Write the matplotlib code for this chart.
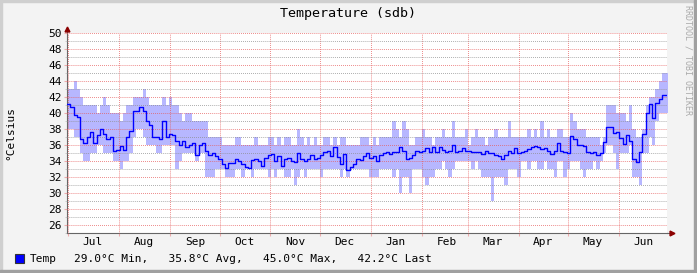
import matplotlib
matplotlib.use("Agg")
import matplotlib.pyplot as plt
import matplotlib.dates as mdates
from matplotlib.ticker import MultipleLocator, NullFormatter
from matplotlib.patches import Rectangle
import pandas as pd
from datetime import datetime

plt.rcParams['font.family'] = ['DejaVu Sans Mono']

# one value per 2 days, starting 30 Jun 2012
start = datetime(2012, 6, 30, 5)
end = datetime(2013, 6, 30, 5)

avg = [41.1, 40.8, 39.8, 39.5, 36.8, 36.3, 37.0, 37.6, 36.2, 37.2, 38.0, 37.4, 36.8, 37.0, 35.3, 35.4, 35.9, 35.4, 37.0, 37.8, 40.3, 40.2, 40.7,
       40.2, 39.0, 38.5, 37.0, 37.0, 36.7, 39.0, 37.0, 37.4, 37.3, 36.5, 36.0, 36.5, 35.8, 36.0, 36.2, 34.8, 36.0, 36.2, 35.2, 34.8, 35.0, 34.6,
       34.2, 33.6, 33.1, 33.7, 33.8, 34.3, 34.0, 33.6, 33.3, 33.1, 34.1, 34.2, 34.0, 33.4, 34.4, 34.7, 34.9, 34.0, 34.6, 33.4, 34.2, 34.4, 34.0,
       33.9, 35.0, 34.2, 34.0, 34.3, 34.7, 34.3, 34.4, 34.7, 35.1, 35.2, 34.6, 35.7, 34.5, 33.6, 34.9, 32.9, 33.2, 33.6, 34.2, 34.1, 34.6,
       35.0, 34.4, 34.6, 34.0, 34.8, 35.0, 35.1, 34.9, 35.1, 35.1, 35.7, 35.2, 34.3, 34.4, 34.8, 35.3, 35.1, 35.2, 35.6, 35.1, 35.7, 35.1, 35.7,
       35.4, 35.1, 35.2, 36.0, 35.1, 35.2, 35.6, 35.3, 35.2, 35.1, 35.1, 35.1, 34.9, 35.2, 35.0, 35.0, 34.8, 34.6, 34.3, 34.7, 35.3, 35.0, 35.6,
       35.0, 35.1, 35.2, 35.5, 35.8, 35.9, 35.8, 35.5, 35.6, 35.2, 34.9, 35.3, 36.2, 35.3, 35.1, 35.0, 37.1, 36.7, 36.0, 36.0, 35.9, 35.1, 35.0,
       35.1, 34.7, 35.0, 36.4, 38.2, 38.2, 37.5, 37.6, 36.9, 36.1, 37.3, 36.5, 34.2, 33.9, 35.1, 37.4, 40.0, 41.1, 39.4, 41.2, 41.7, 42.3, 42.2]

tmax = [43, 43, 44, 43, 42, 41, 41, 41, 41, 40, 41, 42, 41, 40, 40, 40, 39, 40, 41, 41, 42, 42, 42,
        43, 42, 41, 41, 41, 41, 42, 41, 42, 41, 41, 40, 39, 40, 40, 39, 39, 39, 39, 39, 37, 37, 37,
        37, 36, 36, 36, 36, 37, 37, 36, 36, 36, 36, 37, 36, 36, 36, 37, 37, 36, 37, 36, 37, 37, 36,
        36, 38, 37, 36, 37, 36, 37, 36, 36, 37, 37, 36, 37, 36, 37, 37, 36, 36, 36, 36, 37, 37,
        37, 36, 37, 36, 37, 37, 37, 37, 39, 38, 37, 39, 38, 36, 36, 37, 37, 38, 37, 37, 36, 37, 37,
        38, 37, 37, 39, 37, 37, 37, 38, 36, 37, 38, 37, 37, 36, 37, 37, 38, 37, 37, 37, 39, 37, 37,
        37, 37, 37, 38, 37, 38, 37, 39, 37, 38, 37, 37, 38, 38, 37, 37, 40, 39, 38, 38, 38, 37, 37,
        37, 37, 36, 37, 41, 41, 41, 40, 40, 40, 39, 41, 38, 37, 37, 38, 41, 42, 42, 43, 44, 45, 45]

tmin = [38, 38, 37, 37, 35, 34, 34, 35, 35, 36, 36, 35, 35, 35, 34, 34, 33, 34, 34, 35, 37, 38, 38,
        37, 36, 36, 36, 35, 35, 36, 36, 36, 36, 33, 34, 35, 35, 35, 35, 34, 35, 35, 32, 32, 32, 33,
        33, 33, 32, 32, 32, 33, 33, 32, 33, 33, 32, 33, 33, 33, 33, 32, 33, 32, 33, 33, 32, 32, 33,
        31, 32, 33, 32, 33, 33, 33, 33, 32, 33, 33, 33, 33, 33, 32, 33, 32, 33, 33, 33, 33, 33,
        33, 32, 32, 32, 33, 33, 33, 33, 32, 33, 30, 32, 32, 30, 33, 33, 33, 32, 31, 32, 32, 33, 33,
        34, 33, 32, 33, 34, 34, 34, 34, 34, 33, 34, 33, 32, 32, 32, 29, 32, 32, 32, 31, 33, 33, 33,
        32, 34, 34, 33, 34, 34, 33, 33, 34, 33, 33, 32, 34, 34, 32, 33, 34, 34, 34, 33, 32, 33, 33,
        34, 33, 34, 35, 36, 36, 35, 33, 35, 35, 35, 36, 32, 32, 31, 35, 35, 37, 36, 39, 40, 40, 40]

legend_text = "29.0°C Min,   35.8°C Avg,   45.0°C Max,   42.2°C Last"

W, H = 697, 273
edges = pd.date_range(start, periods=len(avg) + 1, freq="2D")

fig = plt.figure(figsize=(W / 100, H / 100), dpi=100, facecolor="#F3F3F3")

# 3d-ish frame round the image
fig.patches.append(Rectangle((0, 1 - 2 / H), 1, 2 / H, transform=fig.transFigure, color="#CFCFCF"))
fig.patches.append(Rectangle((0, 0), 2 / W, 1, transform=fig.transFigure, color="#CFCFCF"))
fig.patches.append(Rectangle((0, 0), 1, 3 / H, transform=fig.transFigure, color="#A0A0A0"))
fig.patches.append(Rectangle((1 - 3 / W, 0), 3 / W, 1, transform=fig.transFigure, color="#A0A0A0"))

ax = fig.add_axes([67 / W, 40 / H, 600 / W, 200 / H])
ax.set_facecolor("white")

ax.fill_between(edges, tmin + [tmin[-1]], tmax + [tmax[-1]], step="post",
                color="#B7B7FF", lw=0, zorder=1)
ax.step(edges, avg + [avg[-1]], where="post", color="#0000FF", lw=1.0, zorder=3)

ax.set_xlim(start, end)
ax.set_ylim(25, 50)

ax.yaxis.set_major_locator(MultipleLocator(2))
ax.yaxis.set_minor_locator(MultipleLocator(1))
ax.xaxis.set_major_locator(mdates.MonthLocator())
ax.xaxis.set_major_formatter(NullFormatter())
ax.xaxis.set_minor_locator(mdates.MonthLocator(bymonthday=16))
ax.xaxis.set_minor_formatter(mdates.DateFormatter("%b"))

red = (0.9, 0.35, 0.35, 0.45)
gray = (0.55, 0.55, 0.55, 0.45)
ax.set_axisbelow(False)
ax.grid(which="major", color=red, ls=(0, (0.7, 1.4)), lw=0.7)
ax.grid(which="minor", axis="y", color=gray, ls=(0, (0.7, 1.4)), lw=0.7)

ax.tick_params(axis="x", which="minor", length=0, pad=3, labelsize=8)
ax.tick_params(axis="x", which="major", length=2.5, color=red)
ax.tick_params(axis="y", which="major", length=2.5, color=red, pad=1.5, labelsize=8)
ax.tick_params(axis="y", which="minor", length=1.5, color=gray)

for s in ["top", "right"]:
    ax.spines[s].set_visible(False)
for s in ["left", "bottom"]:
    ax.spines[s].set_color("#666666")
    ax.spines[s].set_linewidth(0.8)

# axis arrows
ax.plot([0, 0], [1, 1.02], transform=ax.transAxes, clip_on=False, color="#666666", lw=0.8)
ax.plot([1, 1.007], [0, 0], transform=ax.transAxes, clip_on=False, color="#666666", lw=0.8)
ax.plot([0], [1.022], marker="^", ms=3.5, color="#8B0000", transform=ax.transAxes, clip_on=False)
ax.plot([1.008], [0], marker=">", ms=3.5, color="#8B0000", transform=ax.transAxes, clip_on=False)

fig.text(0.5, 1 - 13 / H, "Temperature (sdb)", ha="center", va="center", fontsize=9.6)
fig.text(10 / W, 1 - 133 / H, "°Celsius", rotation=90, ha="center", va="center", fontsize=8)
fig.text(688 / W, 1 - 60 / H, "RRDTOOL / TOBI OETIKER", rotation=270, ha="center", va="center",
         fontsize=6, color="#AAAAAA")

# legend
fig.patches.append(Rectangle((15 / W, 1 - 263 / H), 9 / W, 9 / H, transform=fig.transFigure,
                             facecolor="#0000FF", edgecolor="#333333", lw=0.8))
fig.text(30 / W, 1 - 259 / H, "Temp", ha="left", va="center", fontsize=8)
fig.text(74 / W, 1 - 259 / H, legend_text, ha="left", va="center", fontsize=8)

fig.savefig("out.png", dpi=100, facecolor=fig.get_facecolor())
